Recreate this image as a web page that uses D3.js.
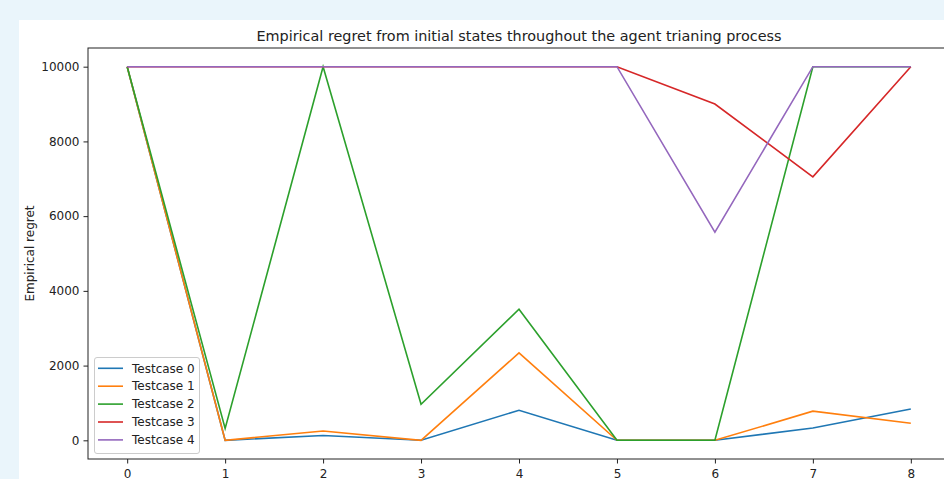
<!DOCTYPE html>
<html><head><meta charset="utf-8">
<script src="https://cdn.jsdelivr.net/npm/d3@7"></script>
<style>
html,body{margin:0;padding:0;background:#eaf5fb;overflow:hidden;}
svg{display:block;}
text{font-family:"DejaVu Sans",sans-serif;fill:#222;}
</style></head>
<body>
<svg id="c" width="944" height="479"></svg>
<script>
const steps = [0,1,2,3,4,5,6,7,8];
const seriesNames = ["Testcase 0","Testcase 1","Testcase 2","Testcase 3","Testcase 4"];
const testcase0 = [10000, 0, 130, 0, 805, 0, 0, 330, 840];
const testcase1 = [10000, 0, 250, 0, 2340, 0, 0, 780, 455];
const testcase2 = [10000, 315, 10000, 965, 3510, 0, 0, 10000, 10000];
const testcase3 = [10000, 10000, 10000, 10000, 10000, 10000, 9000, 7050, 10000];
const testcase4 = [10000, 10000, 10000, 10000, 10000, 10000, 5570, 10000, 10000];
const yTicks = [0,2000,4000,6000,8000,10000];
const colors = ["#1f77b4","#ff7f0e","#2ca02c","#d62728","#9467bd"];
const allSeries = [testcase0,testcase1,testcase2,testcase3,testcase4];

const svg = d3.select("#c");
// white card
svg.append("rect").attr("x",19).attr("y",20).attr("width",944).attr("height",479).attr("fill","#fff");

const L=88, R=950, T=48, B=459;
const x = d3.scaleLinear().domain([-0.4,8.4]).range([L,R]);
const y = d3.scaleLinear().domain([-500,10500]).range([B,T]);

const g = svg.append("g");
// axes
const xa = g.append("g").attr("transform",`translate(0,${B})`)
  .call(d3.axisBottom(x).tickValues(steps).tickFormat(d3.format("d")).tickSize(4.5).tickPadding(4));
const ya = g.append("g").attr("transform",`translate(${L},0)`)
  .call(d3.axisLeft(y).tickValues(yTicks).tickFormat(d3.format("d")).tickSize(4.5).tickPadding(4));
[xa,ya].forEach(a=>{
  a.select(".domain").remove();
  a.selectAll("line").attr("stroke","#222").attr("stroke-width",1);
  a.selectAll("text").style("font-family","DejaVu Sans").style("font-size","12px").attr("fill","#222");
});
xa.selectAll("text").attr("dy","0.9em");

const line = d3.line().x((d,i)=>x(steps[i])).y(d=>y(d));
allSeries.forEach((s,k)=>{
  g.append("path").datum(s).attr("d",line).attr("fill","none")
   .attr("stroke",colors[k]).attr("stroke-width",1.6).attr("stroke-linejoin","miter");
});

// spines
g.append("rect").attr("x",L).attr("y",T).attr("width",R-L).attr("height",B-T)
 .attr("fill","none").attr("stroke","#222").attr("stroke-width",1);

// title
svg.append("text").attr("x",(L+R)/2).attr("y",41).attr("text-anchor","middle")
  .style("font-size","14.4px").text("Empirical regret from initial states throughout the agent trianing process");
// y label
svg.append("text").attr("transform",`translate(34,${(T+B)/2}) rotate(-90)`).attr("text-anchor","middle")
  .style("font-size","12px").text("Empirical regret");

// legend
const lg = svg.append("g");
lg.append("rect").attr("x",94.5).attr("y",357.5).attr("width",105).attr("height",96).attr("rx",2.5)
  .attr("fill","#fff").attr("fill-opacity",0.8).attr("stroke","#ccc").attr("stroke-width",1);
seriesNames.forEach((n,k)=>{
  const yy = 368.3 + k*17.9;
  lg.append("line").attr("x1",98).attr("x2",123).attr("y1",yy).attr("y2",yy)
    .attr("stroke",colors[k]).attr("stroke-width",1.6);
  lg.append("text").attr("x",132).attr("y",yy).attr("dy","0.35em").style("font-size","12px").text(n);
});
</script>
</body></html>
